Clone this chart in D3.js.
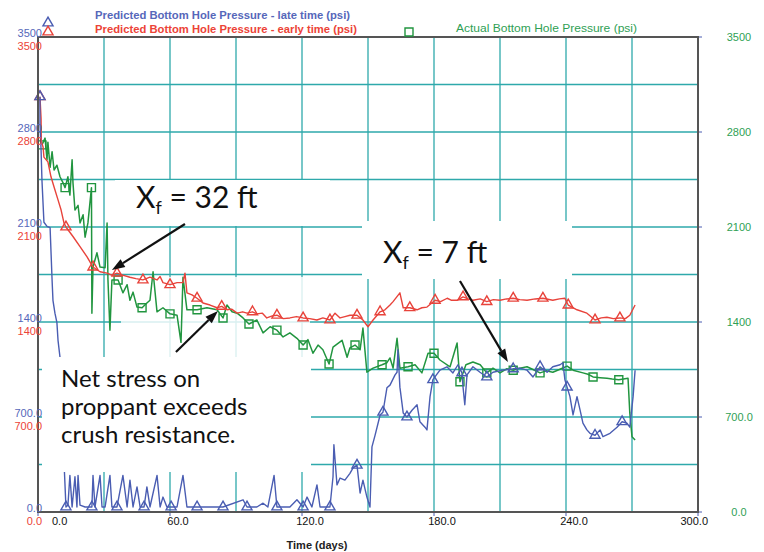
<!DOCTYPE html>
<html><head><meta charset="utf-8">
<script src="https://cdn.jsdelivr.net/npm/d3@7"></script>
<style>body{margin:0;background:#fff}svg{display:block}</style>
</head><body>
<svg id="chart" width="764" height="552"></svg>
<script>
// ---------------- data ----------------
const xTickValues = [0, 60, 120, 180, 240, 300];
const xTickLabels = ["0.0", "60.0", "120.0", "180.0", "240.0", "300.0"];
const yTickValues = [0, 700, 1400, 2100, 2800, 3500];
const yTickLabels = ["0.0", "700.0", "1400", "2100", "2800", "3500"];
const xTitle = "Time (days)";
const legendLate = "Predicted Bottom Hole Pressure - late time (psi)";
const legendEarly = "Predicted Bottom Hole Pressure - early time (psi)";
const legendActual = "Actual Bottom Hole Pressure (psi)";

// [time (days), pressure (psi)]
const earlyTime = [
[0.9,3060],[1.4,2900],[1.5,2730],[2.3,2690],[2.7,2615],[4.5,2580],[5.9,2470],[7.3,2395],[9.1,2300],[10.5,2225],
[11.8,2130],[12.7,2100],[15.9,2030],[19.1,1955],[22.3,1880],[25,1805],[28.2,1770],[31.4,1760],[33.5,1745],[35.9,1760],
[38.5,1745],[41.8,1730],[44.5,1720],[47.7,1710],[50.9,1730],[54.1,1710],[55.5,1735],[56.8,1690],[60,1675],[63.2,1690],
[65.9,1690],[66.8,1760],[67.7,1615],[70,1600],[72.3,1575],[75,1540],[78.2,1525],[81.4,1505],[83.5,1515],[85.9,1490],
[88,1495],[90.5,1465],[93,1475],[95,1465],[97.5,1475],[99.5,1460],[102,1465],[104,1430],[106.5,1445],[108.6,1450],
[111.5,1425],[114.5,1430],[117.5,1440],[120.5,1430],[123.5,1425],[126.8,1415],[129.5,1430],[132.7,1415],[135,1465],[137.3,1430],
[139.5,1440],[141.8,1450],[145,1450],[147.7,1415],[150,1365],[152.3,1415],[155.5,1475],[157.7,1490],[160,1525],[161.4,1550],
[164.5,1615],[166,1505],[169,1505],[172.3,1490],[174.5,1505],[176.8,1510],[180.5,1560],[183,1550],[186,1575],[188,1560],
[190.5,1560],[193.2,1585],[195.5,1570],[197.7,1560],[201,1570],[204,1550],[207,1565],[210,1560],[213,1570],[216,1575],
[219,1565],[222.3,1560],[226,1570],[229.5,1575],[234,1560],[237,1570],[239.5,1575],[241,1525],[245,1490],[249.5,1465],
[253.2,1415],[256,1430],[258.6,1435],[261.5,1425],[264.5,1430],[267,1425],[269,1450],[271.4,1525]
];

const actual = [
[1.8,2705],[3.2,2755],[4.1,2595],[4.5,2725],[5.5,2540],[6.4,2655],[7.3,2520],[8.6,2555],[10,2470],[11.4,2425],
[12.3,2390],[13.6,2470],[14.5,2335],[15.5,2595],[15.9,2425],[16.8,2225],[18.2,2260],[19.1,2130],[20.5,2190],[21.4,2025],
[22.7,2130],[24.3,2390],[24.5,1465],[25,1805],[26.8,1910],[28.2,1805],[30.5,1800],[31.4,2130],[31.8,1710],[32.7,1340],
[33.6,1710],[36.4,1710],[38.6,1615],[40.5,1675],[41.8,1560],[43.2,1620],[45,1510],[47.3,1505],[49.5,1540],[50.9,1560],
[52.3,1770],[54.1,1475],[56.8,1505],[60,1460],[63.2,1450],[65,1250],[65.9,1730],[67.7,1490],[72.3,1490],[76.8,1505],
[81.4,1490],[84.1,1430],[85.9,1525],[88.2,1475],[90.5,1465],[93.2,1430],[95.9,1385],[99.5,1415],[102.3,1320],[105.5,1365],
[108.6,1340],[111.4,1290],[114.5,1320],[117.7,1280],[120.5,1230],[122.7,1270],[125,1170],[127.3,1230],[129.5,1195],[132.3,1090],
[134.1,1215],[138.2,1265],[140.5,1140],[141.8,1210],[144.1,1230],[146.4,1195],[147.7,1355],[149.5,1030],[152.3,1060],[156.4,1085],
[158.6,1100],[160,1135],[161.4,1060],[163.2,1280],[164.5,1060],[168.2,1070],[171.4,1085],[174.5,1025],[177.3,1170],[180,1170],
[182.7,1120],[187.3,1070],[190.5,1245],[191.8,960],[194.5,1085],[197.7,1105],[201,1085],[204,1025],[206.8,1060],[210,1025],
[213,1055],[216,1045],[219,1060],[222.3,1070],[225,1050],[228.2,1025],[231,1040],[234,1030],[237,1050],[240.5,1075],
[243.2,1045],[247.7,1025],[250,1015],[252.3,995],[255.5,990],[258.6,985],[261,980],[264,975],[268.2,985],[269,730],
[270,555],[271.4,530]
];

const lateTime = [
[0.9,3060],[0.9,2865],[1.4,2665],[1.8,2445],[2.7,2135],[4.1,2105],[5.5,2095],[6.4,1710],[6.8,1560],[7.7,1465],
[8.6,1395],[9.1,1265],[10,1140],[11.4,530],[12.7,37],[13.6,50],[14.5,270],[15.5,37],[16.8,260],[17.7,37],
[18.2,270],[19.1,50],[21.4,37],[24.5,37],[25,270],[25.9,37],[28.2,270],[29.1,37],[30.5,37],[32.7,270],
[33.6,37],[35.9,37],[38.6,270],[40.5,37],[41.8,235],[43.2,37],[45,185],[46.4,37],[48.2,37],[49.5,185],
[50.9,37],[54.1,270],[55.5,37],[56.8,110],[58.6,37],[60.5,37],[63.2,37],[65.9,270],[67.7,37],[72.3,37],
[78.2,37],[84.1,37],[93.2,90],[95,37],[99.5,37],[102.3,65],[104.5,37],[107.3,270],[108.6,37],[114.5,37],
[117.7,90],[120.5,37],[122.3,110],[124.5,37],[126.8,200],[128.2,37],[132.7,37],[134.1,260],[134.5,495],[135.9,200],
[137.3,250],[139.5,235],[141.8,285],[143.2,325],[145,345],[146.4,140],[147.7,235],[149.5,110],[150.9,37],[151.8,480],
[153.2,565],[155.5,715],[156.8,735],[158.6,915],[160,935],[162.3,1010],[163.2,1030],[163.6,1195],[164.5,920],[166,730],
[167.7,700],[170,750],[172.3,790],[173.6,665],[175.9,625],[176.8,605],[178.2,850],[179.5,975],[182.7,1045],[185.9,1070],
[188.6,1025],[190.9,1085],[192.7,1025],[193.2,920],[194,790],[195,1010],[197.7,1070],[200.9,1030],[204,995],[206.8,1030],
[211.4,1045],[216,1055],[219,1060],[222.3,1045],[225,995],[228.2,1070],[231.4,1030],[234,1070],[237.3,1085],[238.6,1100],
[239.5,975],[240.5,920],[241.8,850],[243.2,715],[245,850],[246.4,750],[247.7,655],[249.5,605],[250.9,580],[253.2,565],
[255.5,605],[256.8,555],[260,580],[263.2,625],[265.5,665],[267.7,655],[269,625],[270.5,850],[271.4,1045]
];

// ---------------- layout / style ----------------
const L = 38, R = 698, T = 37, B = 512;
const COL = {
  grid: "#2ea9ab", frame: "#555555",
  blue: "#4a5db2", red: "#e8433b", green: "#21953f",
  blueText: "#5667ba", redText: "#ec4337", greenText: "#2f9f55"
};

const svg = d3.select("#chart");
const x = d3.scaleLinear().domain([0, 300]).range([L, R]);
const y = d3.scaleLinear().domain([0, 3500]).range([B, T]);

// gridlines
const gGrid = svg.append("g");
gGrid.selectAll("line.v").data(d3.range(30, 300, 30)).join("line")
  .attr("x1", d => x(d)).attr("x2", d => x(d)).attr("y1", T).attr("y2", B)
  .attr("stroke", COL.grid).attr("stroke-width", 1.3);
gGrid.selectAll("line.h").data(d3.range(350, 3500, 350)).join("line")
  .attr("x1", L).attr("x2", R).attr("y1", d => y(d)).attr("y2", d => y(d))
  .attr("stroke", COL.grid).attr("stroke-width", 1.3);

// white annotation boxes that hide the grid (behind data)
const underMasks = [
  {x: 115, y: 180, w: 215, h: 46, o: 1},
  {x: 362, y: 221, w: 210, h: 58, o: 1},
  {x: 121, y: 277, w: 189, h: 80, o: 0.82}
];
svg.append("g").selectAll("rect").data(underMasks).join("rect")
  .attr("x", d => d.x).attr("y", d => d.y).attr("width", d => d.w).attr("height", d => d.h)
  .attr("fill", "#fff").attr("fill-opacity", d => d.o);

// series
const line = d3.line().x(d => x(d[0])).y(d => y(d[1]));
function markerPts(data, offset) {
  const out = [];
  const tMax = data[data.length - 1][0];
  for (let m = offset; m <= tMax + 0.5; m += 12) {
    let best = null, bd = Infinity;
    data.forEach(p => { const dd = Math.abs(p[0] - m); if (dd < bd) { bd = dd; best = p; } });
    if (best && bd < 3) out.push(best);
  }
  return out;
}
const tri = d3.symbol(d3.symbolTriangle, 44)();
const sq = d3.symbol(d3.symbolSquare, 64)();

function drawSeries(data, color, shape, offset, w) {
  const g = svg.append("g");
  g.append("path").datum(data).attr("d", line).attr("fill", "none")
    .attr("stroke", color).attr("stroke-width", w).attr("stroke-linejoin", "round");
  g.selectAll("path.m").data(markerPts(data, offset)).join("path")
    .attr("d", shape).attr("transform", d => `translate(${x(d[0])},${y(d[1])})`)
    .attr("fill", "none").attr("stroke", color).attr("stroke-width", 1.4);
}
drawSeries(actual, COL.green, sq, 0.3, 1.5);
drawSeries(earlyTime, COL.red, tri, 0.5, 1.4);
drawSeries(lateTime, COL.blue, tri, 0.5, 1.4);

// opaque text box covering data
svg.append("rect").attr("x", 42).attr("y", 357).attr("width", 269).attr("height", 115).attr("fill", "#fff");

// frame
svg.append("rect").attr("x", L).attr("y", T).attr("width", R - L).attr("height", B - T)
  .attr("fill", "none").attr("stroke", COL.frame).attr("stroke-width", 2);

// small axis ticks
svg.append("g").selectAll("line").data(xTickValues).join("line")
  .attr("x1", d => x(d)).attr("x2", d => x(d)).attr("y1", B + 1).attr("y2", B + 4)
  .attr("stroke", COL.blue).attr("stroke-width", 1);
svg.append("g").selectAll("line").data(yTickValues).join("line")
  .attr("x1", R + 1).attr("x2", R + 4).attr("y1", d => y(d)).attr("y2", d => y(d))
  .attr("stroke", COL.blue).attr("stroke-width", 1);

// x labels
const font = "'Liberation Sans', Arial, sans-serif";
svg.append("g").selectAll("text").data(xTickValues).join("text")
  .attr("x", (d, i) => i === 0 ? x(d) + 14 : (i === xTickValues.length - 1 ? x(d) + 10 : x(d) + 8))
  .attr("y", 525)
  .attr("text-anchor", (d, i) => i === 0 ? "start" : (i === xTickValues.length - 1 ? "end" : "middle"))
  .attr("font-family", font).attr("font-size", 11).attr("fill", "#111")
  .text((d, i) => xTickLabels[i]);
svg.append("text").attr("x", 317).attr("y", 549).attr("text-anchor", "middle")
  .attr("font-family", font).attr("font-size", 11).attr("font-weight", "bold").attr("fill", "#222")
  .text(xTitle);

// left labels (blue late, red early)
svg.append("g").selectAll("text").data(yTickValues).join("text")
  .attr("x", 42).attr("y", d => y(d)).attr("text-anchor", "end")
  .attr("font-family", font).attr("font-size", 11).attr("fill", COL.blueText)
  .text((d, i) => yTickLabels[i]);
svg.append("g").selectAll("text").data(yTickValues).join("text")
  .attr("x", 42).attr("y", d => y(d) + 13).attr("text-anchor", "end")
  .attr("font-family", font).attr("font-size", 11).attr("fill", COL.redText)
  .text((d, i) => yTickLabels[i]);
// right labels
svg.append("g").selectAll("text").data(yTickValues).join("text")
  .attr("x", 739).attr("y", d => y(d) + 4).attr("text-anchor", "middle")
  .attr("font-family", font).attr("font-size", 11).attr("fill", COL.greenText)
  .text((d, i) => yTickLabels[i]);

// legends
svg.append("text").attr("x", 95).attr("y", 19).attr("font-family", font).attr("font-size", 11)
  .attr("font-weight", "bold").attr("fill", COL.blueText)
  .attr("textLength", 255).attr("lengthAdjust", "spacingAndGlyphs").text(legendLate);
svg.append("text").attr("x", 95).attr("y", 33).attr("font-family", font).attr("font-size", 11)
  .attr("font-weight", "bold").attr("fill", COL.redText)
  .attr("textLength", 262).attr("lengthAdjust", "spacingAndGlyphs").text(legendEarly);
svg.append("text").attr("x", 456).attr("y", 32).attr("font-family", font).attr("font-size", 11)
  .attr("fill", COL.greenText)
  .attr("textLength", 181).attr("lengthAdjust", "spacingAndGlyphs").text(legendActual);
svg.append("path").attr("d", tri).attr("transform", "translate(48,23)")
  .attr("fill", "none").attr("stroke", COL.blue).attr("stroke-width", 1.4);
svg.append("path").attr("d", tri).attr("transform", "translate(48,32)")
  .attr("fill", "none").attr("stroke", COL.red).attr("stroke-width", 1.4);
svg.append("path").attr("d", sq).attr("transform", "translate(409,32)")
  .attr("fill", "none").attr("stroke", COL.green).attr("stroke-width", 1.4);

// annotations
const afont = "Lato, 'Open Sans', sans-serif";
const xfNotes = [
  {x: 136, y: 208, rest: " = 32 ft"},
  {x: 383, y: 263, rest: " = 7 ft"}
];
xfNotes.forEach(n => {
  const t = svg.append("text").attr("x", n.x).attr("y", n.y)
    .attr("font-family", afont).attr("font-size", 30).attr("fill", "#111");
  t.append("tspan").text("X");
  t.append("tspan").attr("font-size", 18).attr("dy", 6).text("f");
  t.append("tspan").attr("dy", -6).text(n.rest);
});
const stressLines = ["Net stress on", "proppant exceeds", "crush resistance."];
svg.append("g").selectAll("text").data(stressLines).join("text")
  .attr("x", 61).attr("y", (d, i) => 387 + i * 28)
  .attr("font-family", afont).attr("font-size", 24).attr("fill", "#111").text(d => d);

// arrows: [tail t, tail psi, tip t, tip psi]
const arrows = [[66.8, 2122, 33.6, 1783], [62.7, 1179, 81.8, 1481], [191.8, 1702, 213.6, 1105]];
arrows.forEach(a => {
  const x1 = x(a[0]), y1 = y(a[1]), x2 = x(a[2]), y2 = y(a[3]);
  const ang = Math.atan2(y2 - y1, x2 - x1);
  const hl = 13, hw = 4.5;
  const bx = x2 - hl * Math.cos(ang), by = y2 - hl * Math.sin(ang);
  svg.append("line").attr("x1", x1).attr("y1", y1).attr("x2", bx).attr("y2", by)
    .attr("stroke", "#111").attr("stroke-width", 2.2);
  const px = -Math.sin(ang) * hw, py = Math.cos(ang) * hw;
  svg.append("path").attr("d", `M${x2},${y2}L${bx + px},${by + py}L${bx - px},${by - py}Z`).attr("fill", "#111");
});
</script>
</body></html>
